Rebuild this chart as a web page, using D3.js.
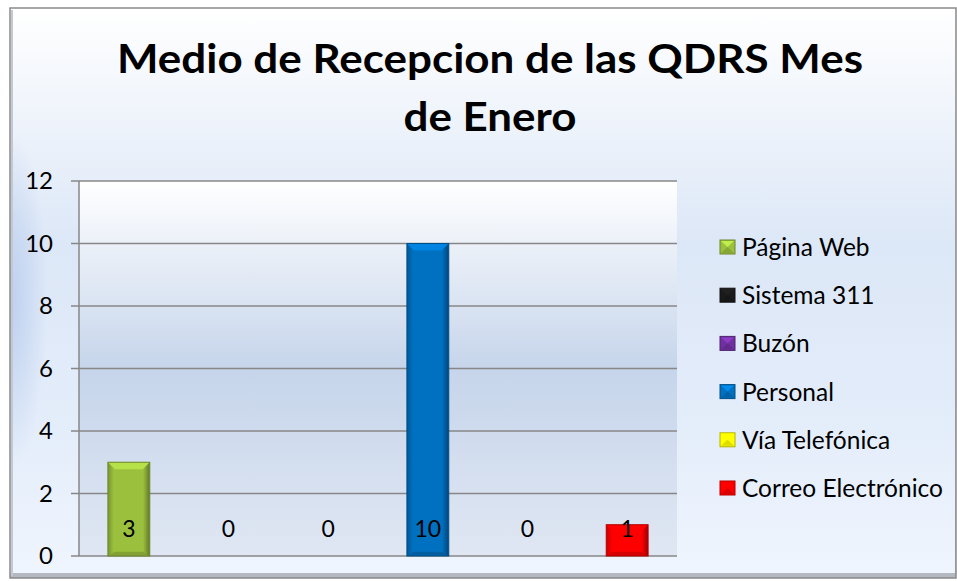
<!DOCTYPE html>
<html><head><meta charset="utf-8">
<script src="https://cdn.jsdelivr.net/npm/d3@7"></script>
<style>html,body{margin:0;padding:0;background:#fff;}svg{display:block;}</style>
</head><body>
<svg id="c" width="957" height="581"></svg>
<script>
const categories = ["Página Web","Sistema 311","Buzón","Personal","Vía Telefónica","Correo Electrónico"];
const values = [3,0,0,10,0,1];
const colors = ["#9bc03e","#1a1a1a","#7030a0","#0070c0","#ffff00","#ff0000"];
const yTicks = [0,2,4,6,8,10,12];
const titleLines = ["Medio de Recepcion de las QDRS Mes","de Enero"];

const svg = d3.select("#c");
const defs = svg.append("defs");
const font = "Lato, 'Noto Sans', sans-serif";

// background gradients
const bg = defs.append("linearGradient").attr("id","bg").attr("x1",0).attr("y1",0).attr("x2",0).attr("y2",1);
bg.append("stop").attr("offset","0").attr("stop-color","#ffffff");
bg.append("stop").attr("offset","0.42").attr("stop-color","#dce7f7");
bg.append("stop").attr("offset","0.75").attr("stop-color","#e4edfa");
bg.append("stop").attr("offset","1").attr("stop-color","#eff5fe");
const bgL = defs.append("radialGradient").attr("id","bgL").attr("gradientUnits","userSpaceOnUse")
  .attr("cx",10).attr("cy",300).attr("r",170)
  .attr("gradientTransform","translate(10,300) scale(0.22,1) translate(-10,-300)");
bgL.append("stop").attr("offset","0").attr("stop-color","#b9cdee").attr("stop-opacity",0.9);
bgL.append("stop").attr("offset","1").attr("stop-color","#b9cdee").attr("stop-opacity",0);
const sh = defs.append("linearGradient").attr("id","sh").attr("x1",0).attr("y1",0).attr("x2",0).attr("y2",1);
sh.append("stop").attr("offset","0").attr("stop-color","#eef2f8");
sh.append("stop").attr("offset","1").attr("stop-color","#b4b8c0");

const pg = defs.append("linearGradient").attr("id","pg").attr("x1",0).attr("y1",0).attr("x2",0).attr("y2",1);
pg.append("stop").attr("offset","0").attr("stop-color","#ffffff");
pg.append("stop").attr("offset","0.5").attr("stop-color","#c6d5eb");
pg.append("stop").attr("offset","1").attr("stop-color","#e0e7f3");

svg.append("rect").attr("x",0).attr("y",0).attr("width",957).attr("height",581).attr("fill","#ffffff");
svg.append("rect").attr("x",10).attr("y",8).attr("width",946).attr("height",570).attr("fill","url(#sh)");
svg.append("rect").attr("x",10).attr("y",8).attr("width",945).attr("height",565).attr("fill","url(#bg)");
svg.append("rect").attr("x",10).attr("y",8).attr("width",945).attr("height",565).attr("fill","url(#bgL)");
svg.append("rect").attr("x",10).attr("y",8).attr("width",946).attr("height",570).attr("fill","none").attr("stroke","#8a8a8a").attr("stroke-width",1.5);
svg.append("line").attr("x1",12).attr("x2",12).attr("y1",10).attr("y2",576).attr("stroke","#c4c8d0").attr("stroke-width",2);

// title
const tWidths = [746,173];
svg.append("g").selectAll("text").data(titleLines).join("text")
  .attr("x",490).attr("y",(d,i)=>73+i*58).attr("text-anchor","middle")
  .attr("font-family",font).attr("font-weight","bold").attr("font-size",40).attr("fill","#000")
  .attr("textLength",(d,i)=>tWidths[i]).attr("lengthAdjust","spacingAndGlyphs")
  .text(d=>d);

const m = {left:79, right:677, top:181, bottom:556};
const x = d3.scaleBand().domain(categories).range([m.left,m.right]).paddingInner(0.58).paddingOuter(0.29);
const y = d3.scaleLinear().domain([0,12]).range([m.bottom,m.top]);

svg.append("rect").attr("x",m.left).attr("y",m.top).attr("width",m.right-m.left).attr("height",m.bottom-m.top).attr("fill","url(#pg)");

// gridlines
svg.append("g").selectAll("line").data(yTicks).join("line")
  .attr("x1",m.left-8).attr("x2",m.right).attr("y1",d=>y(d)).attr("y2",d=>y(d))
  .attr("stroke","#878787").attr("stroke-width",1.5);
svg.append("line").attr("x1",m.left).attr("x2",m.left).attr("y1",m.top).attr("y2",m.bottom).attr("stroke","#878787").attr("stroke-width",1.5);

// y axis labels
svg.append("g").selectAll("text").data(yTicks).join("text")
  .attr("x",53).attr("y",d=>y(d)+8).attr("text-anchor","end")
  .attr("font-family",font).attr("font-size",24).attr("fill","#000").text(d=>d);

// bars
const bars = svg.append("g");
categories.forEach((c,i)=>{
  const v = values[i]; if(v<=0) return;
  const col = d3.color(colors[i]);
  const gid = "bar"+i;
  const g = defs.append("linearGradient").attr("id",gid).attr("x1",0).attr("y1",0).attr("x2",1).attr("y2",0);
  g.append("stop").attr("offset","0").attr("stop-color",col.darker(0.7));
  g.append("stop").attr("offset","0.14").attr("stop-color",col);
  g.append("stop").attr("offset","0.84").attr("stop-color",col);
  g.append("stop").attr("offset","1").attr("stop-color",col.darker(1.3));
  const bx = x(c), bw = x.bandwidth(), by = y(v), bh = y(0)-y(v);
  bars.append("rect").attr("x",bx).attr("y",by).attr("width",bw).attr("height",bh).attr("fill",`url(#${gid})`);
  const b = Math.min(7,bh/3);
  bars.append("polygon").attr("points",[[bx,by],[bx+bw,by],[bx+bw-b,by+b],[bx+b,by+b]].join(" ")).attr("fill",col.brighter(0.45));
  bars.append("polygon").attr("points",[[bx,by+bh],[bx+bw,by+bh],[bx+bw-b,by+bh-b*0.6],[bx+b,by+bh-b*0.6]].join(" ")).attr("fill",col.darker(0.5));
  bars.append("rect").attr("x",bx).attr("y",by).attr("width",bw).attr("height",bh).attr("fill","none").attr("stroke",col.darker(1)).attr("stroke-width",1);
});

// data labels
svg.append("g").selectAll("text").data(categories).join("text")
  .attr("x",d=>x(d)+x.bandwidth()/2).attr("y",y(0)-19)
  .attr("text-anchor","middle").attr("font-family",font).attr("font-size",23).attr("fill","#000")
  .text((d,i)=>values[i]);

// legend
const lg = svg.append("g");
categories.forEach((c,i)=>{
  const ly = 247 + i*48.2;
  const col = d3.color(colors[i]);
  lg.append("rect").attr("x",720).attr("y",ly-7).attr("width",15).attr("height",14).attr("fill",col).attr("stroke",col.darker(1)).attr("stroke-width",1);
  lg.append("polygon").attr("points",[[721,ly-6],[734,ly-6],[727.5,ly]].join(" ")).attr("fill",col.brighter(0.6));
  lg.append("polygon").attr("points",[[721,ly+6],[734,ly+6],[727.5,ly]].join(" ")).attr("fill",col.darker(0.4));
  lg.append("text").attr("x",742).attr("y",ly+9).attr("font-family",font).attr("font-size",24.5).attr("fill","#000").text(c);
});
</script>
</body></html>
